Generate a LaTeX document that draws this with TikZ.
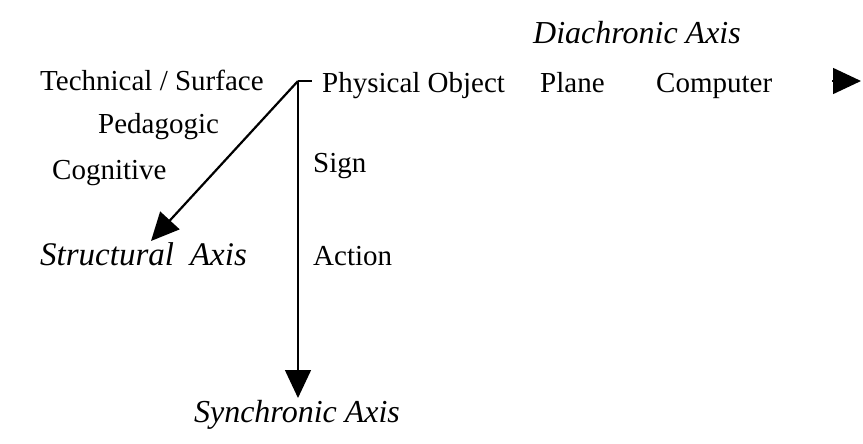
\documentclass[tikz,border=0pt]{standalone}
\usepackage{fontspec}
\setmainfont{Liberation Serif}
\usetikzlibrary{arrows.meta,positioning}

\begin{document}
\begin{tikzpicture}[
  x=1pt, y=-1pt,
  lbl/.style={inner sep=0pt, font=\fontsize{29}{31}\selectfont},
  axislbl/.style={inner sep=0pt, font=\fontsize{32}{34}\selectfont\itshape},
  axisline/.style={line width=1.5pt, -{Triangle[length=28pt,width=26pt]}},
  stub/.style={line width=1.5pt}
]
\useasboundingbox (0,0) rectangle (863,444);

% origin of the three axes
\coordinate (origin) at (298,81);
\coordinate (diaend) at (312,81);
\coordinate (structtip) at (151,241);
\coordinate (synctip) at (298,398);

% diachronic axis
\node[axislbl, anchor=base] (diachronic) at (637,44) {Diachronic Axis};
\node[lbl, anchor=base west] (technical) at (40,91) {Technical / Surface};
\node[lbl, anchor=base west] (physical) at (322,93) {Physical Object};
\node[lbl, anchor=base west] (plane) at (540,93) {Plane};
\node[lbl, anchor=base west] (computer) at (656,93) {Computer};
\coordinate (compstub) at (832,81);
\coordinate (comptip) at (861,81);

% structural axis
\node[lbl, anchor=base west] (pedagogic) at (98,134) {Pedagogic};
\node[lbl, anchor=base west] (cognitive) at (52,179) {Cognitive};
\node[axislbl, anchor=base west] (structural) at (40,265) {\fontsize{33}{35}\selectfont Structural\hspace{16pt}Axis};

% synchronic axis
\node[lbl, anchor=base west] (sign) at (313,172) {Sign};
\node[lbl, anchor=base west] (action) at (313,265) {Action};
\node[axislbl, anchor=base] (synchronic) at (297,422) {Synchronic Axis};

\draw[stub] (origin) -- (diaend);
\draw[axisline] (compstub) -- (comptip);
\draw[axisline, line width=2.2pt] (origin) -- (structtip);
\draw[axisline] (origin) -- (synctip);
\end{tikzpicture}
\end{document}
